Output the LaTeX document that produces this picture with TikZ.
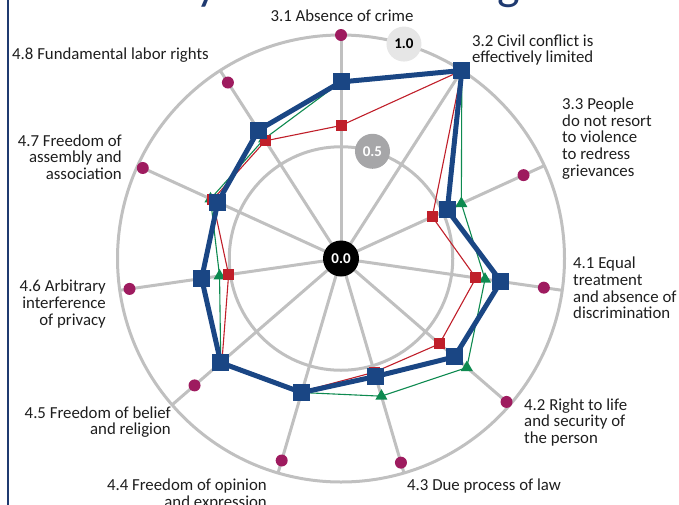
\documentclass[tikz,border=0pt]{standalone}
\usepackage{fontspec}
\setmainfont{Carlito}
\usetikzlibrary{shapes.geometric}
\definecolor{navy}{HTML}{1A4684}
\definecolor{titleblue}{HTML}{1F3A70}
\definecolor{dred}{HTML}{C01F2A}
\definecolor{dgreen}{HTML}{0E8A50}
\definecolor{purp}{HTML}{9E1B5F}
\definecolor{gridgray}{HTML}{C0C0C0}
\definecolor{midgray}{HTML}{A6A6A8}
\definecolor{lightgray2}{HTML}{E6E6E6}
\definecolor{txt}{HTML}{1E1E1E}
\begin{document}
\begin{tikzpicture}[x=1pt,y=-1pt,
  gridline/.style={draw=gridgray,line width=3pt},
  frameline/.style={draw=titleblue,line width=2.2pt},
  titletext/.style={font=\fontsize{48}{50}\selectfont,text=titleblue,inner sep=0pt},
  lbl/.style={font=\fontsize{16.8}{16.7}\selectfont,text=txt,inner sep=0pt},
  pdot/.style={circle,fill=purp,inner sep=0pt,minimum size=12pt},
  gline/.style={draw=dgreen,line width=1.1pt,line join=round},
  rline/.style={draw=dred,line width=1.1pt,line join=round},
  bline/.style={draw=navy,line width=5pt,line join=round},
  gtri/.style={regular polygon,regular polygon sides=3,fill=dgreen,inner sep=0pt,minimum size=14pt},
  rsq/.style={rectangle,fill=dred,inner sep=0pt,minimum size=11pt},
  bsq/.style={rectangle,fill=navy,inner sep=0pt,minimum size=17pt},
  scalelbl/.style={circle,inner sep=0pt,minimum size=35pt,font=\fontsize{15}{15}\selectfont\bfseries}
]
\useasboundingbox (0,0) rectangle (679,504);
\clip (0,0) rectangle (679,504);
% frame line and clipped title
\coordinate (ft) at (8,-5);
\coordinate (fb) at (8,510);
\draw[frameline] (ft) -- (fb);
\node[titletext,anchor=base west] (ty) at (196,-1) {y};
\node[titletext,anchor=base west] (tg) at (497,-1) {g};
% labels
\node[lbl,anchor=center] (L0) at (342,16) {3.1 Absence of crime};
\node[lbl,anchor=west,align=left] (L1) at (472,50) {3.2 Civil conflict is\\effectively limited};
\node[lbl,anchor=west,align=left] (L2) at (562,138.5) {3.3 People\\do not resort\\to violence\\to redress\\grievances};
\node[lbl,anchor=west,align=left] (L3) at (573,288) {4.1 Equal\\treatment\\and absence of\\discrimination};
\node[lbl,anchor=west,align=left] (L4) at (524,422.5) {4.2 Right to life\\and security of\\the person};
\node[lbl,anchor=west] (L5) at (407,486) {4.3 Due process of law};
\node[lbl,anchor=east,align=right] (L6) at (267,494.5) {4.4 Freedom of opinion\\and expression};
\node[lbl,anchor=east,align=right] (L7) at (171,422) {4.5 Freedom of belief\\and religion};
\node[lbl,anchor=east,align=right] (L8) at (106,304) {4.6 Arbitrary\\interference\\of privacy};
\node[lbl,anchor=east,align=right] (L9) at (122,157) {4.7 Freedom of\\assembly and\\association};
\node[lbl,anchor=west] (L10) at (12,55) {4.8 Fundamental labor rights};
\begin{scope}[shift={(341,258.5)}]
  \coordinate (c) at (0,0);
  \draw[gridline] (c) circle[radius=223.5pt];
  \draw[gridline] (c) circle[radius=111.75pt];
  \foreach \k in {0,...,10}{
    \coordinate (s\k) at ({-90+\k*360/11}:223.5);
    \draw[gridline] (c) -- (s\k);
  }
  % purple dots
  \foreach \k/\r in {0/1.0,1/1.0,2/0.898,3/0.917,4/0.98,5/0.952,6/0.942,7/0.867,8/0.956,9/0.975,10/0.936}{
    \node[pdot] (p\k) at ({-90+\k*360/11}:{\r*223.5}) {};
  }
  % scale labels
  \node[scalelbl,fill=midgray,text=white] (h05) at ({-90+180/11}:111.75) {0.5};
  \node[scalelbl,fill=lightgray2,text=black] (h10) at ({-90+180/11}:223.5) {1.0};
  % data points
  \foreach \k/\r in {0/0.79,1/1.0,2/0.592,3/0.651,4/0.745,5/0.642,6/0.625,7/0.712,8/0.549,9/0.642,10/0.636}{
    \coordinate (g\k) at ({-90+\k*360/11}:{\r*223.5});
  }
  \foreach \k/\r in {0/0.595,1/1.0,2/0.449,3/0.61,4/0.583,5/0.53,6/0.62,7/0.705,8/0.508,9/0.632,10/0.626}{
    \coordinate (r\k) at ({-90+\k*360/11}:{\r*223.5});
  }
  \foreach \k/\r in {0/0.79,1/1.0,2/0.523,3/0.723,4/0.672,5/0.55,6/0.625,7/0.712,8/0.63,9/0.606,10/0.683}{
    \coordinate (b\k) at ({-90+\k*360/11}:{\r*223.5});
  }
  % green series
  \draw[gline] (g0) \foreach \k in {1,...,10}{ -- (g\k)} -- cycle;
  \foreach \k in {0,...,10}{ \node[gtri] (gm\k) at (g\k) {}; }
  % red series
  \draw[rline] (r0) \foreach \k in {1,...,10}{ -- (r\k)} -- cycle;
  \foreach \k in {0,...,10}{ \node[rsq] (rm\k) at (r\k) {}; }
  % blue series
  \draw[bline] (b0) \foreach \k in {1,...,10}{ -- (b\k)} -- cycle;
  \foreach \k in {0,...,10}{ \node[bsq] (bm\k) at (b\k) {}; }
  % centre
  \node[scalelbl,fill=black,text=white,minimum size=36pt] (h00) at (c) {0.0};
\end{scope}
\end{tikzpicture}
\end{document}
